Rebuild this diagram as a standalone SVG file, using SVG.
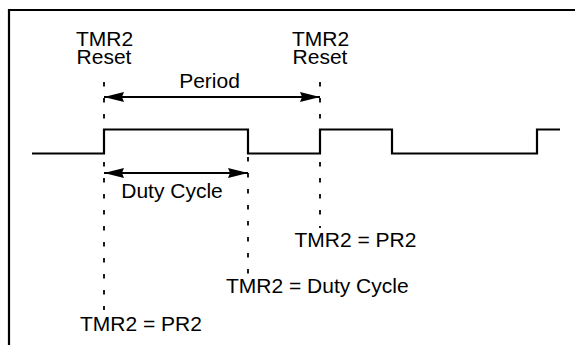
<svg xmlns="http://www.w3.org/2000/svg" width="575" height="345" viewBox="0 0 575 345">
<style>
.t{font-family:"Liberation Sans",Arial,sans-serif;font-size:21px;fill:#000}
.c{text-anchor:middle}
.w{fill:none;stroke:#000;stroke-width:2.2}
.d{fill:none;stroke:#000;stroke-width:1.8;stroke-dasharray:4.5 11.5}
.a{fill:none;stroke:#000;stroke-width:2}
</style>
<defs>
<marker id="ah" viewBox="0 0 20 10" refX="20" refY="5" markerWidth="20" markerHeight="10" markerUnits="userSpaceOnUse" orient="auto-start-reverse">
<path d="M0,0 L20,5 L0,10 L2,5 Z" fill="#000"/>
</marker>
</defs>
<rect width="575" height="345" fill="#fff"/>
<g id="frame">
<path d="M9,345 V10 H575" fill="none" stroke="#000" stroke-width="2.2"/>
</g>
<g id="connectors">
<path class="d" d="M104,82 V310"/>
<path class="d" d="M320,82 V228"/>
<path class="d" d="M248,157 V275"/>
<path class="a" d="M104,97 H320" marker-start="url(#ah)" marker-end="url(#ah)"/>
<path class="a" d="M104,173 H248" marker-start="url(#ah)" marker-end="url(#ah)"/>
</g>
<g id="waveform">
<path class="w" d="M32,153.5 H104 V129.5 H248 V153.5 H320 V129.5 H392 V153.5 H537 V129.5 H560"/>
</g>
<g id="reset1"><text class="t c" x="104.5" y="45.5">TMR2</text><text class="t c" x="104" y="64">Reset</text></g>
<g id="reset2"><text class="t c" x="320.5" y="45.5">TMR2</text><text class="t c" x="320" y="64">Reset</text></g>
<g id="period"><text class="t c" x="209.5" y="88">Period</text></g>
<g id="duty"><text class="t c" x="172" y="198">Duty Cycle</text></g>
<g id="pr2a"><text class="t" x="294.5" y="246.5">TMR2 = PR2</text></g>
<g id="dutyeq"><text class="t" x="226" y="293">TMR2 = Duty Cycle</text></g>
<g id="pr2b"><text class="t" x="80" y="330.5">TMR2 = PR2</text></g>
</svg>
